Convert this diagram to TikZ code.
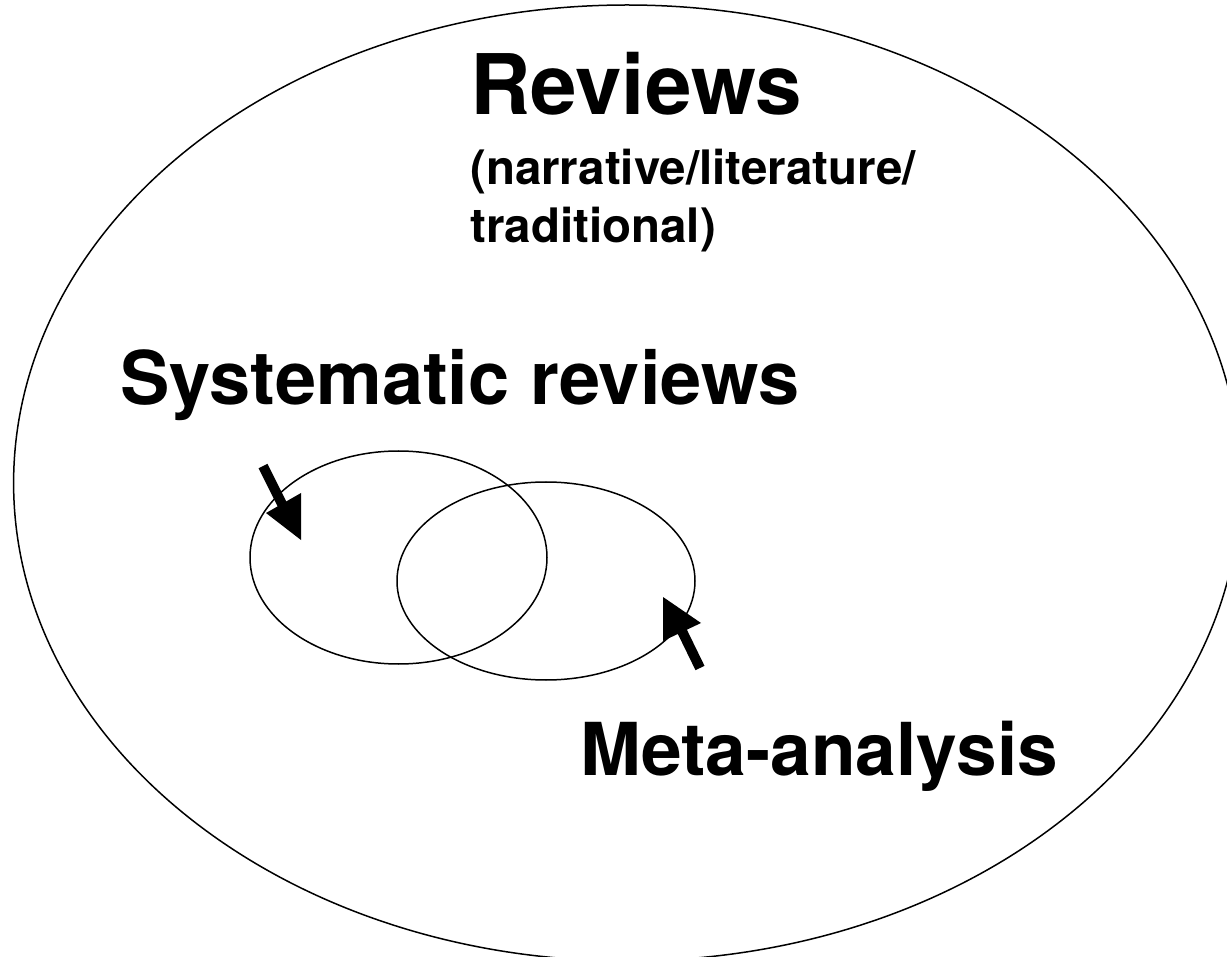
\documentclass[tikz,border=0pt]{standalone}
\usepackage{fontspec}
\setmainfont{TeX Gyre Heros}
\tikzset{
  outline/.style={draw=black, line width=1.5pt},
  lbl/.style={inner sep=0pt, anchor=base west, font=\bfseries},
  shaft/.style={draw=black, line width=10pt},
  head/.style={fill=black, draw=none}
}
\begin{document}
\begin{tikzpicture}[x=1pt,y=-1pt]
\useasboundingbox (0,0) rectangle (1227,957);
\clip (0,0) rectangle (1227,957);
\fill[white] (0,0) rectangle (1227,957);
% big ellipse
\draw[outline] (627,483) ellipse [x radius=613.4, y radius=478];
% small ellipses
\draw[outline] (398.5,557.5) ellipse [x radius=148.5, y radius=106.5];
\draw[outline] (546,581) ellipse [x radius=149, y radius=99];
% texts
\node[lbl, font=\bfseries\fontsize{83.6}{90}\selectfont] (rev) at (470,115) {Reviews};
\node[lbl, font=\bfseries\fontsize{47.5}{52}\selectfont] (narr1) at (470,185) {(narrative/literature/};
\node[lbl, font=\bfseries\fontsize{47.5}{52}\selectfont] (narr2) at (470,243) {traditional)};
\node[lbl, font=\bfseries\fontsize{74}{80}\selectfont] (sys) at (120,405) {Systematic reviews};
\node[lbl, font=\bfseries\fontsize{73}{80}\selectfont] (meta) at (580,775) {Meta-analysis};
% arrows
\coordinate (a1s) at (263,466);
\coordinate (a1e) at (284,508);
\draw[shaft] (a1s) -- (a1e);
\fill[head] (301,493) -- (301,540) -- (266,513) -- cycle;
\coordinate (a2s) at (700,668);
\coordinate (a2e) at (680,627);
\draw[shaft] (a2s) -- (a2e);
\fill[head] (663,597) -- (663,641) -- (701,623) -- cycle;
\end{tikzpicture}
\end{document}
